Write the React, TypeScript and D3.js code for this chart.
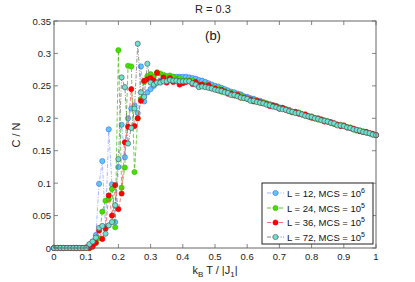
import React from "react";
import * as d3 from "d3";

const temps: number[] = d3.range(0, 101).map((i) => +(i * 0.01).toFixed(2));

const tailBase: number[] = [
  0.257, 0.258, 0.259, 0.26, 0.26, 0.261, 0.261, 0.261, 0.26, 0.26,
  0.259, 0.259, 0.258, 0.257, 0.256, 0.254, 0.253, 0.251, 0.25, 0.248,
  0.246, 0.245, 0.243, 0.242, 0.24, 0.238, 0.237, 0.235, 0.234, 0.232,
  0.231, 0.229, 0.228, 0.226, 0.225, 0.224, 0.222, 0.221, 0.219, 0.218,
  0.216, 0.215, 0.213, 0.212, 0.21, 0.209, 0.208, 0.206, 0.205, 0.203,
  0.202, 0.2, 0.199, 0.198, 0.196, 0.195, 0.193, 0.192, 0.19, 0.189,
  0.188, 0.186, 0.185, 0.183, 0.182, 0.181, 0.179, 0.178, 0.177, 0.175, 0.174,
];

// values for x = 0.00 .. 0.29
const low12: number[] = [
  0, 0, 0, 0, 0, 0, 0, 0, 0, 0, 0.001, 0.005, 0.01, 0.02, 0.099,
  0.134, 0.032, 0.183, 0.098, 0.04, 0.125, 0.19, 0.14, 0.2, 0.215,
  0.22, 0.208, 0.28, 0.226, 0.24,
];
const low24: number[] = [
  0, 0, 0, 0, 0, 0, 0, 0, 0, 0, 0, 0, 0.003, 0.008, 0.015,
  0.056, 0.073, 0.075, 0.091, 0.032, 0.305, 0.093, 0.124, 0.281, 0.28,
  0.117, 0.2, 0.23, 0.256, 0.265,
];
const low36: number[] = [
  0, 0, 0, 0, 0, 0, 0, 0, 0, 0, 0, 0, 0.002, 0.008, 0.027,
  0.014, 0.03, 0.081, 0.05, 0.097, 0.06, 0.084, 0.163, 0.187, 0.245,
  0.188, 0.2, 0.227, 0.258, 0.26,
];
const low72: number[] = [
  0, 0, 0, 0, 0, 0, 0, 0, 0, 0, 0, 0.006, 0.01, 0.016, 0.031,
  0.034, 0.022, 0.035, 0.04, 0.066, 0.137, 0.263, 0.248, 0.161, 0.185,
  0.215, 0.315, 0.24, 0.233, 0.284,
];

// deviations from tail base for x = 0.30 .. 1.00 (71 values)
const dev12: number[] = [
  -0.012, -0.008, -0.004, -0.002, 0, 0.001, 0.002, 0.003, 0.004, 0.004,
  0.005, 0.005, 0.005, 0.005, 0.005, 0.005, 0.005, 0.005, 0.004, 0.004,
  0.004, 0.004, 0.004, 0.003, 0.003, 0.003, 0.003, 0.003, 0.003, 0.002,
  0.002, 0.002, 0.002, 0.002, 0.002, 0.001, 0.001, 0.001, 0.001, 0.001,
  0.001, 0.001, 0.001, 0.001, 0, 0, 0, 0, 0, 0,
  0, 0, 0, 0, 0, 0, 0, 0, 0, 0,
  0, 0, 0, 0, 0, 0, 0, 0, 0, 0, 0,
];
const dev24: number[] = [
  0.011, 0.006, 0.012, 0.009, 0.007, 0.004, 0.005, 0.003, 0.001, 0.002,
  -0.002, -0.001, 0, 0.001, -0.002, -0.003, -0.001, 0, -0.002, 0,
  -0.001, 0.001, -0.002, 0, -0.001, 0.001, -0.002, 0, 0.001, -0.001,
  0, -0.001, 0.001, 0, -0.001, 0, 0.001, -0.001, 0, 0.001,
  -0.001, 0, 0.001, 0, -0.001, 0, 0.001, 0, -0.001, 0,
  0.001, 0, -0.001, 0, 0.001, 0, 0, -0.001, 0, 0.001,
  0, 0, 0.001, 0, -0.001, 0, 0.001, 0, 0, 0, 0,
];
const dev36: number[] = [
  0.005, 0.0, 0.011, -0.004, 0.003, -0.006, 0.001, -0.005, -0.002, -0.008,
  -0.005, -0.003, -0.001, -0.004, 0.0, -0.003, -0.001, -0.002, 0.001, -0.002,
  0.0, -0.002, 0.001, -0.001, -0.002, 0.0, -0.001, 0.001, -0.002, 0.0,
  -0.001, 0.0, -0.002, 0.001, 0.0, -0.001, 0.0, -0.002, 0.001, 0.0,
  -0.001, 0.001, 0.0, -0.001, 0.0, 0.001, -0.001, 0.0, 0.001, 0.0,
  -0.001, 0.0, 0.001, 0.0, -0.001, 0.0, 0.001, 0.0, 0.0, -0.001,
  0.001, 0.0, 0.0, 0.001, 0.0, -0.001, 0.0, 0.001, 0.0, 0.001, 0.0,
];
const dev72: number[] = [
  -0.002, -0.006, -0.004, -0.005, -0.003, -0.004, -0.002, -0.003, -0.002, -0.003,
  -0.002, -0.002, -0.001, -0.003, -0.004, -0.006, -0.004, -0.003, -0.003, -0.002,
  -0.002, -0.002, -0.001, -0.002, -0.001, -0.002, -0.001, -0.001, -0.002, -0.001,
  -0.001, -0.002, -0.001, -0.001, -0.001, -0.001, -0.001, -0.001, -0.001, -0.001,
  -0.001, -0.001, 0, -0.001, 0, -0.001, 0, 0, -0.001, 0,
  0, 0, 0, -0.001, 0, 0, 0, 0, -0.001, 0,
  0, 0, 0, 0, 0, 0, 0, 0, 0, 0, 0,
];

const build = (low: number[], dev: number[]) =>
  temps.map((t, i) => ({ t, v: i < 30 ? low[i] : tailBase[i - 30] + dev[i - 30] }));

const seriesInfo = [
  { name: "L = 12, MCS = 10", sup: "6", low: low12, dev: dev12, fill: "#5ccaf0", stroke: "#3a66ff", line: "#7f9cff", dash: "4,1.5,1,1.5" },
  { name: "L = 24, MCS = 10", sup: "5", low: low24, dev: dev24, fill: "#48dd08", stroke: "#36b800", line: "#38b800", dash: "4,2" },
  { name: "L = 36, MCS = 10", sup: "5", low: low36, dev: dev36, fill: "#ff0000", stroke: "#e80000", line: "#ff4a4a", dash: "4,2" },
  { name: "L = 72, MCS = 10", sup: "5", low: low72, dev: dev72, fill: "#6ee2d2", stroke: "#4a4a4a", line: "#666666", dash: "4,1.5,1,1.5" },
];

const xTicks: number[] = [0, 0.1, 0.2, 0.3, 0.4, 0.5, 0.6, 0.7, 0.8, 0.9, 1];
const yTicks: number[] = [0, 0.05, 0.1, 0.15, 0.2, 0.25, 0.3, 0.35];

export default function App() {
  const W = 415, H = 282;
  const left = 54, right = 376, top = 21, bottom = 248;
  const x = d3.scaleLinear().domain([0, 1]).range([left, right]);
  const y = d3.scaleLinear().domain([0, 0.35]).range([bottom, top]);
  const line = d3.line<{ t: number; v: number }>().x((d) => x(d.t)).y((d) => y(d.v));
  const font = "'Liberation Sans', Arial, sans-serif";
  const axisColor = "#666";
  const legX = 262, legY = 183, legW = 111, legH = 61;
  const rowY = [193, 208, 222.5, 237];

  return (
    <svg width={W} height={H} style={{ position: "absolute", left: 0, top: 0, background: "#fff" }} fontFamily={font}>
      <rect x={0} y={0} width={W} height={H} fill="#fff" />
      <text x={213} y={13} fontSize={11} textAnchor="middle" fill="#222">R = 0.3</text>
      {/* data */}
      <g clipPath="url(#clip)">
        {seriesInfo.map((s, k) => {
          const data = build(s.low, s.dev);
          return (
            <g key={k}>
              <path d={line(data) || ""} fill="none" stroke={s.line} strokeWidth={0.7} strokeDasharray={s.dash} />
              {data.map((d, i) => (
                <circle key={i} cx={x(d.t)} cy={y(d.v)} r={2.6} fill={s.fill} stroke={s.stroke} strokeWidth={0.6} />
              ))}
            </g>
          );
        })}
      </g>
      <defs>
        <clipPath id="clip">
          <rect x={left - 4} y={top} width={right - left + 8} height={bottom - top + 4} />
        </clipPath>
      </defs>
      {/* box */}
      <rect x={left} y={top} width={right - left} height={bottom - top} fill="none" stroke={axisColor} strokeWidth={1} />
      {xTicks.map((t, i) => (
        <g key={"x" + i}>
          <line x1={x(t)} x2={x(t)} y1={bottom} y2={bottom - 4} stroke={axisColor} strokeWidth={0.8} />
          <line x1={x(t)} x2={x(t)} y1={top} y2={top + 4} stroke={axisColor} strokeWidth={0.8} />
          <text x={x(t)} y={260} fontSize={9.5} textAnchor="middle" fill="#222">{String(t)}</text>
        </g>
      ))}
      {yTicks.map((t, i) => (
        <g key={"y" + i}>
          <line x1={left} x2={left + 4} y1={y(t)} y2={y(t)} stroke={axisColor} strokeWidth={0.8} />
          <line x1={right} x2={right - 4} y1={y(t)} y2={y(t)} stroke={axisColor} strokeWidth={0.8} />
          <text x={51} y={y(t) + 3.5} fontSize={9.5} textAnchor="end" fill="#222">{String(t)}</text>
        </g>
      ))}
      <text x={213} y={40} fontSize={13} textAnchor="middle" fill="#111">(b)</text>
      <text transform="translate(20,135) rotate(-90)" fontSize={11} textAnchor="middle" fill="#222">C / N</text>
      <text x={215} y={274} fontSize={11} textAnchor="middle" fill="#222">
        k<tspan fontSize={8} dy={3}>B</tspan><tspan dy={-3}> T / |J</tspan><tspan fontSize={8} dy={3}>1</tspan><tspan dy={-3}>|</tspan>
      </text>
      {/* legend */}
      <rect x={legX} y={legY} width={legW} height={legH} fill="#fff" stroke="#222" strokeWidth={1} />
      {seriesInfo.map((s, k) => (
        <g key={"l" + k}>
          <line x1={267} x2={284} y1={rowY[k]} y2={rowY[k]} stroke={s.line} strokeWidth={0.8} strokeDasharray={s.dash} />
          <circle cx={275.5} cy={rowY[k]} r={2.6} fill={s.fill} stroke={s.stroke} strokeWidth={0.6} />
          <text x={287} y={rowY[k] + 3.5} fontSize={9.5} fill="#111">
            {s.name}<tspan fontSize={7} dy={-4}>{s.sup}</tspan>
          </text>
        </g>
      ))}
    </svg>
  );
}
